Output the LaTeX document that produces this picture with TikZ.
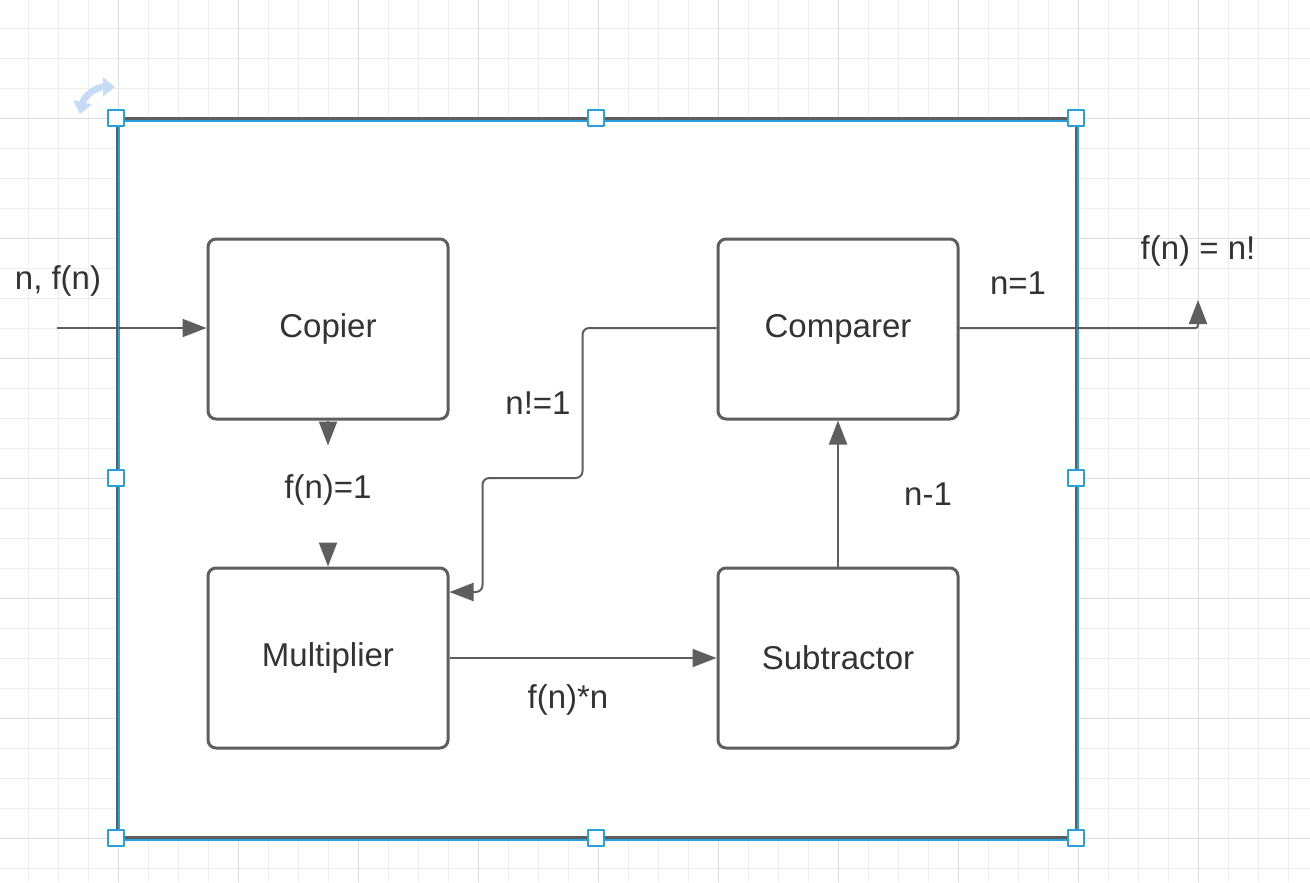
\documentclass[tikz,border=0pt]{standalone}
\usepackage{fontspec}
\setmainfont{Liberation Sans}
\usepackage{tikz}
\usetikzlibrary{arrows.meta,positioning,calc}
\definecolor{ink}{HTML}{333333}
\definecolor{wire}{HTML}{5E5E5E}
\definecolor{selblue}{HTML}{29A0DA}
\definecolor{gridminor}{HTML}{EEEEEE}
\definecolor{gridmajor}{HTML}{DCDCDC}
\definecolor{rotblue}{HTML}{C6DCF6}
\tikzset{
    every picture/.style={line join=round},
    unitbox/.style={draw=wire,fill=white,line width=2.25pt,rounded corners=6pt,
      minimum width=180pt,minimum height=135pt,inner sep=0pt,
      text=ink,font=\fontsize{24.75}{30}\selectfont},
    flow/.style={-{Triangle[length=18pt,width=13.5pt]},draw=wire,line width=1.5pt},
    wirelabel/.style={text=ink,inner sep=0pt,font=\fontsize{24.75}{30}\selectfont},
    handle/.style={draw=selblue,fill=white,line width=1.5pt,minimum size=12pt,inner sep=0pt},
    gridline/.style={draw=gridminor,line width=0.75pt}
}

\begin{document}
\begin{tikzpicture}[x=0.75pt,y=-0.75pt]
  \useasboundingbox[fill=white] (0,0) rectangle (1310,882);
  \foreach \g in {28,58,...,1300} \draw[gridline] (\g,0) -- (\g,882);
  \foreach \g in {28,58,...,880} \draw[gridline] (0,\g) -- (1310,\g);
  \foreach \g in {118,238,...,1198} \draw[gridline,gridmajor] (\g,0) -- (\g,882);
  \foreach \g in {118,238,...,838} \draw[gridline,gridmajor] (0,\g) -- (1310,\g);

  \fill[white] (117,118) rectangle (1077,838);
  \draw[wire,line width=2.25pt] (117,118.5) rectangle (1076.5,837.5);
  \draw[selblue,line width=1.5pt] (119,120.5) rectangle (1078,839.5);

  \node[unitbox] (copier) at (328,329) {Copier};
  \node[unitbox] (comparer) at (838,329) {Comparer};
  \node[unitbox] (multiplier) at (328,658) {Multiplier};
  \node[unitbox] (subtractor) at (838,658) {Subtractor};

  \node[wirelabel] (inlbl) at (58,281) {n, f(n)};
  \node[wirelabel] (seedlbl) at (328,490) {f(n)=1};
  \node[wirelabel] (looplbl) at (538,403) {n!=1};
  \node[wirelabel] (donelbl) at (1018,283) {n=1};
  \node[wirelabel] (outlbl) at (1198,251) {f(n) = n!};
  \node[wirelabel] (declbl) at (928,494) {n-1};
  \node[wirelabel] (prodlbl) at (568,700) {f(n)*n};

  \coordinate (src) at (57,328);
  \coordinate (sink) at (1198,300);
  \draw[flow] (src) -- (copier.west |- src);
  \draw[flow] (copier.south) -- ++(0,25);
  \draw[flow] ($(multiplier.north)+(0,-24)$) -- (multiplier.north);
  \draw[flow] (multiplier.east) -- (subtractor.west |- multiplier.east);
  \draw[flow] (subtractor.north) -- (comparer.south);
  \draw[flow,rounded corners=5pt] (comparer.west |- src) -- ++(-134,0) -- ++(0,150)
    -- ++(-100,0) |- ($(multiplier.east)+(0,-66)$);
  \draw[flow,rounded corners=2pt] (comparer.east |- src) -| (sink);

  \foreach \hx/\hy [count=\i] in {116/118,596/118,1076/118,116/478,1076/478,116/838,596/838,1076/838}
    \node[handle] (h\i) at (\hx,\hy) {};

  \draw[rotblue,line width=5pt,{Triangle[length=9pt,width=14pt]}-{Triangle[length=9pt,width=14pt]}]
    (80,114) .. controls (84,96) and (96,87) .. (115,87);
\end{tikzpicture}
\end{document}
